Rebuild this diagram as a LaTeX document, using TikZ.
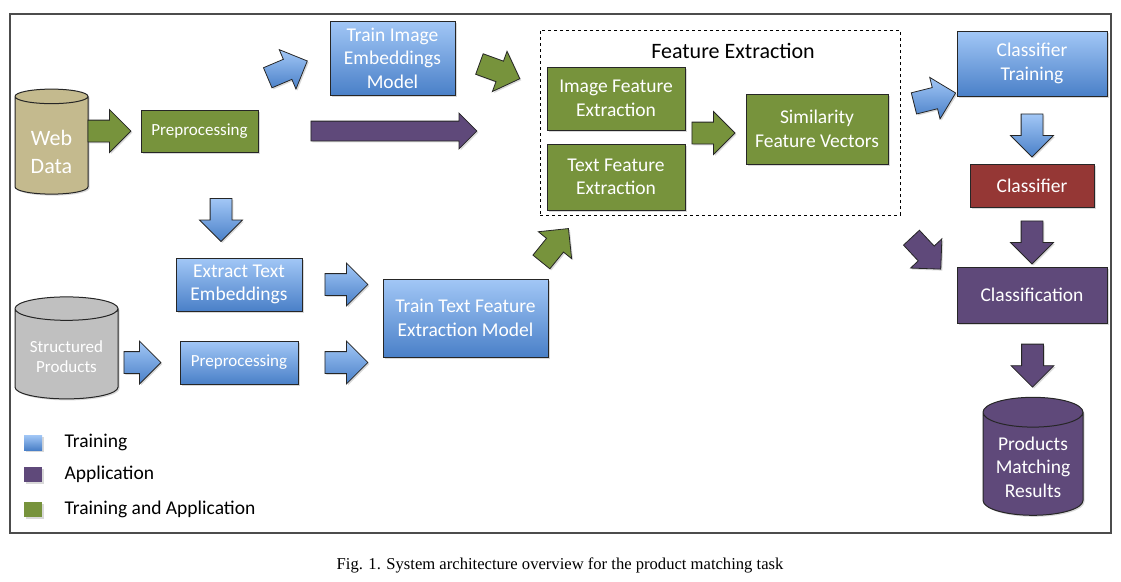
\documentclass[tikz,border=0pt]{standalone}
\usepackage{fontspec}
\setmainfont{Carlito}
\newfontfamily\capfont{Liberation Serif}
\usetikzlibrary{calc,positioning,shapes.geometric,shapes.arrows,shadows}

\definecolor{trainblue}{HTML}{4A80C8}
\definecolor{trainbluelt}{HTML}{A2C7F6}
\definecolor{appviolet}{HTML}{5F497A}
\definecolor{bothgreen}{HTML}{77933C}
\definecolor{clsred}{HTML}{953735}
\definecolor{webtan}{HTML}{C4BA8E}
\definecolor{prodgray}{HTML}{C0C0C0}
\definecolor{edgegray}{HTML}{262626}

\begin{document}
\begin{tikzpicture}[
  x=1pt,y=-1pt,
  every node/.style={inner sep=0pt,align=center,text=white,font=\fontsize{19.5}{23.5}\selectfont},
  softshadow/.style={drop shadow={shadow xshift=1.5pt,shadow yshift=-1.5pt,opacity=0.3}},
  stage/.style={rectangle,draw=edgegray,line width=1pt,softshadow},
  trainbox/.style={stage,top color=trainbluelt,bottom color=trainblue},
  appbox/.style={stage,fill=appviolet},
  bothbox/.style={stage,fill=bothgreen},
  store/.style={cylinder,shape border rotate=90,aspect=0.35,draw=edgegray,line width=1pt,softshadow},
  blockarrow/.style={single arrow,draw=edgegray,line width=0.8pt,minimum height=43pt,inner ysep=10.5pt,
    single arrow head extend=10.5pt,softshadow},
  trainarrow/.style={blockarrow,top color=trainbluelt,bottom color=trainblue},
  apparrow/.style={blockarrow,fill=appviolet},
  botharrow/.style={blockarrow,fill=bothgreen},
  legtext/.style={text=black,anchor=west,font=\fontsize{19.5}{23}\selectfont}
]
\useasboundingbox (0,0) rectangle (1121,581);
\draw[gray!60!black,line width=1.2pt] (10,14) rectangle (1111,533);

% sources
\node[store,fill=webtan,minimum width=73pt,minimum height=105pt,font=\fontsize{22}{28}\selectfont] (web) at (51.5,145.5) {\rule{0pt}{29pt}Web\\Data};
\node[store,fill=prodgray,minimum width=103pt,minimum height=102pt,aspect=0.32,font=\fontsize{17}{20}\selectfont] (struct) at (66.5,354) {\rule{0pt}{18pt}Structured\\Products};

% training branch
\node[bothbox,minimum width=117pt,minimum height=42pt,font=\fontsize{17}{20}\selectfont] (pre1) at (199.5,131) {Preprocessing};
\node[trainbox,minimum width=125pt,minimum height=74pt] (trainimg) at (392.5,58) {Train Image\\Embeddings\\Model};
\node[trainbox,minimum width=126pt,minimum height=53pt] (extr) at (239,284.5) {Extract Text\\Embeddings};
\node[trainbox,minimum width=118pt,minimum height=43pt,font=\fontsize{17}{20}\selectfont] (pre2) at (239,362.5) {Preprocessing};
\node[trainbox,minimum width=165pt,minimum height=78pt] (traintxt) at (465.5,318) {Train Text Feature\\Extraction Model};

% feature extraction
\node[draw=black,dashed,line width=0.8pt,minimum width=360pt,minimum height=185pt] (fe) at (720,122.5) {};
\node[text=black,font=\fontsize{22}{26}\selectfont] (fetitle) at (733,51) {Feature Extraction};
\node[bothbox,minimum width=138pt,minimum height=63pt] (imgfe) at (616,98.5) {Image Feature\\Extraction};
\node[bothbox,minimum width=138pt,minimum height=66pt] (txtfe) at (616,177) {Text Feature\\Extraction};
\node[bothbox,minimum width=142pt,minimum height=70pt] (simfv) at (817,129) {Similarity\\Feature Vectors};

% classification
\node[trainbox,minimum width=150pt,minimum height=65pt] (clstrain) at (1032,63.5) {Classifier\\Training};
\node[stage,fill=clsred,minimum width=124pt,minimum height=43pt] (cls) at (1032,185.5) {Classifier};
\node[appbox,minimum width=150pt,minimum height=56pt] (clsf) at (1032,295) {Classification};
\node[store,fill=appviolet,minimum width=100pt,minimum height=118pt,aspect=0.4] (res) at (1033,464) {\rule{0pt}{19.5pt}Products\\Matching\\Results};

% block arrows
\node[botharrow,left=9pt of pre1] (webpre) {};
\node[trainarrow,rotate=23] (preimg) at ($(trainimg.west)+(-47,13.5)$) {};
\node[botharrow,rotate=-20] (imgfeat) at ($(trainimg.east)+(39,11.5)$) {};
\node[apparrow,right=52pt of pre1,minimum height=166pt,inner ysep=9.5pt,single arrow head extend=8pt] (prefeat) {};
\node[trainarrow,rotate=-90] (preextr) at ($(pre1.south)+(21.5,62)$) {};
\node[trainarrow,right=22pt of extr] (extrtxt) {};
\node[trainarrow,left=18pt of pre2,minimum height=37pt] (structpre) {};
\node[trainarrow,right=26pt of pre2] (pretxt) {};
\node[botharrow,rotate=51] (txtfeat) at ($(traintxt.north east)+(3,-29)$) {};
\node[botharrow,left=10pt of simfv,yshift=-4pt] (fesim) {};
\node[trainarrow,rotate=14] (featcls) at ($(clstrain.west)+(-27,36)$) {};
\node[trainarrow,rotate=-90] (trcls) at ($(clstrain.south)!0.5!(cls.north)$) {};
\node[apparrow,rotate=-90] (clsclsf) at ($(cls.south)!0.5!(clsf.north)$) {};
\node[apparrow,rotate=-47] (featclsf) at ($(fe.south east)+(22,34)$) {};
\node[apparrow,rotate=-90] (clsfres) at ($(clsf.south)!0.5!(res.north)$) {};

% legend
\node[trainbox,draw=none,minimum width=18pt,minimum height=15pt] (legtrain) at (33,442.5) {};
\node[appbox,draw=none,minimum width=18pt,minimum height=15pt] (legapp) at (33,474.5) {};
\node[bothbox,draw=none,minimum width=18pt,minimum height=15pt] (legboth) at (33,509.5) {};
\node[legtext,right=22pt of legtrain] (legtraintxt) {Training};
\node[legtext,right=22pt of legapp] (legapptxt) {Application};
\node[legtext,right=22pt of legboth] (legbothtxt) {Training and Application};

\node[text=black,font=\capfont\fontsize{16.6}{19}\selectfont] (caption) at (560,565) {Fig. 1. System architecture overview for the product matching task};
\end{tikzpicture}
\end{document}
